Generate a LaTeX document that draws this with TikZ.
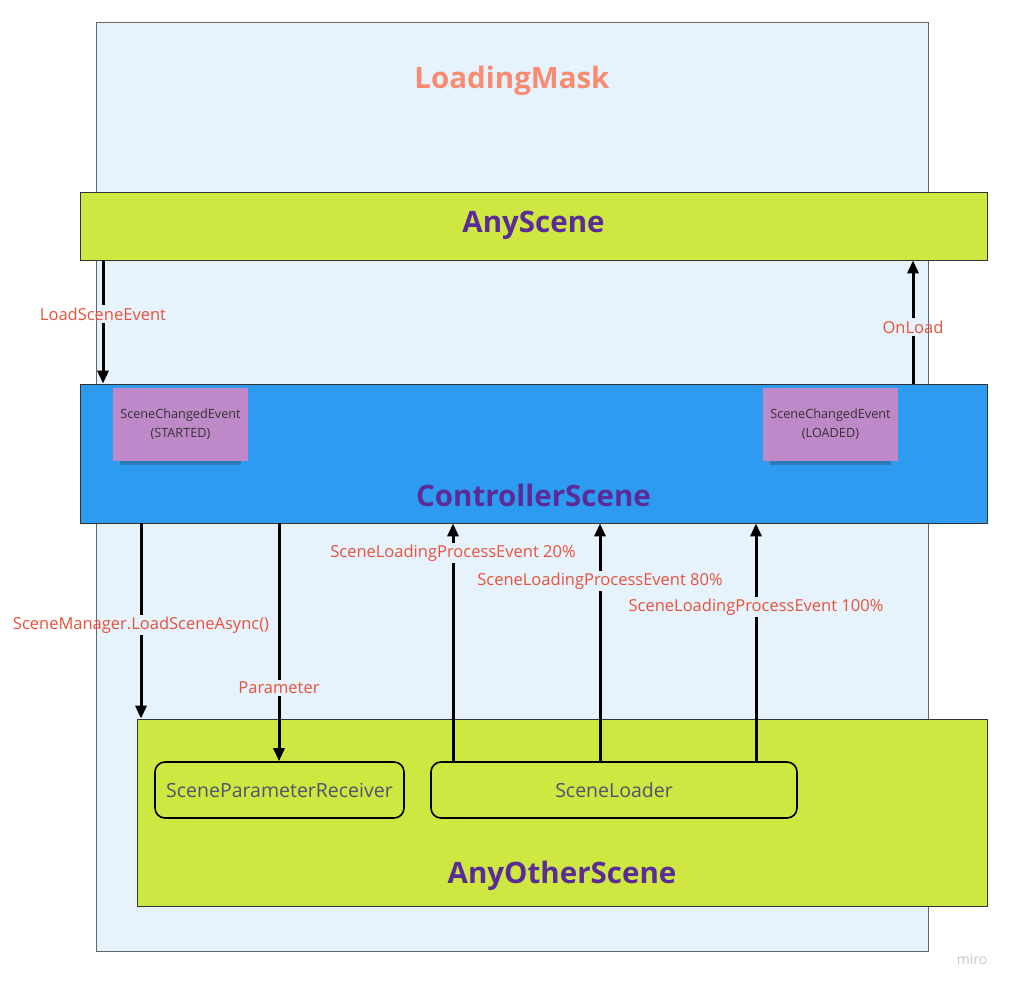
\documentclass[tikz,border=0pt]{standalone}
\usepackage{fontspec}
\setmainfont{Open Sans}
\usetikzlibrary{arrows.meta,shadows}

\definecolor{maskbg}{HTML}{E6F3FD}
\definecolor{scenelime}{HTML}{CEE741}
\definecolor{ctrlblue}{HTML}{2D9BF0}
\definecolor{stickypink}{HTML}{BF88C8}
\definecolor{titlepurple}{HTML}{5B2C98}
\definecolor{masksalmon}{HTML}{F88B72}
\definecolor{eventred}{HTML}{E8523A}
\definecolor{innertext}{HTML}{4E5570}

\begin{document}
\begin{tikzpicture}[x=1pt,y=-1pt]
\tikzstyle{every node}=[font=\fontsize{16.5}{20}\selectfont]
\tikzstyle{scenebox}=[draw=black!80, line width=0.8pt, inner sep=0pt]
\tikzstyle{title}=[font=\fontsize{29.5}{34}\selectfont\bfseries, text=titlepurple]
\tikzstyle{sticky}=[fill=stickypink, inner sep=0pt, minimum width=135pt, minimum height=73pt,
  align=center, text=black!80, font=\fontsize{12.7}{19}\selectfont,
  drop shadow={shadow xshift=0pt, shadow yshift=-8pt, shadow scale=0.9, opacity=0.3, fill=black!80}]
\tikzstyle{part}=[draw=black, line width=1.6pt, rounded corners=10pt, minimum height=56pt,
  text=innertext, font=\fontsize{19.5}{23}\selectfont]
\tikzstyle{evlabel}=[text=eventred, inner sep=2pt]
\tikzstyle{flow}=[line width=3pt]
\tikzstyle{flowarrow}=[line width=3pt, -{Triangle[length=13pt,width=11pt]}]

% white canvas
\useasboundingbox [fill=white] (0,0) rectangle (1012,987);

% the loading mask frame
\node[scenebox, fill=maskbg, draw=black!60, minimum width=832pt, minimum height=929pt] (mask) at (512,486.5) {};
\node[font=\fontsize{29.5}{34}\selectfont\bfseries, text=masksalmon] (masktitle) at (512,81) {LoadingMask};

% the scenes
\node[scenebox, fill=scenelime, minimum width=907pt, minimum height=68pt] (anyscene) at (533.5,226) {};
\node[title] (anytitle) at (533.5,225) {AnyScene};

\node[scenebox, fill=ctrlblue, minimum width=907pt, minimum height=139pt] (ctrl) at (533.5,453.5) {};
\node[title] (ctrltitle) at (533.5,495) {ControllerScene};

\node[scenebox, fill=scenelime, minimum width=850pt, minimum height=187pt] (other) at (562,812.5) {};
\node[title] (othertitle) at (562,876) {AnyOtherScene};

% sticky notes
\node[sticky] (started) at (180.5,424.5) {SceneChangedEvent\\(STARTED)};
\node[sticky] (loaded) at (830.5,424.5) {SceneChangedEvent\\(LOADED)};

% components inside AnyOtherScene
\node[part, minimum width=249pt] (receiver) at (279.5,790) {SceneParameterReceiver};
\node[part, minimum width=366pt] (loader) at (614,790) {SceneLoader};

% event labels
\node[evlabel] (loadev) at (103,314) {LoadSceneEvent};
\node[evlabel] (onload) at (913,327) {OnLoad};
\node[evlabel] (asyncev) at (141,625) {SceneManager.LoadSceneAsync()};
\node[evlabel] (paramev) at (279,688) {Parameter};
\node[evlabel] (prog20) at (453,553) {SceneLoadingProcessEvent 20\%};
\node[evlabel] (prog80) at (600,581) {SceneLoadingProcessEvent 80\%};
\node[evlabel] (prog100) at (756,607) {SceneLoadingProcessEvent 100\%};

% draw arrows
\draw[flow] (anyscene.south -| loadev) -- (loadev);
\draw[flowarrow] (loadev) -- (ctrl.north -| loadev);

\draw[flow] (ctrl.north -| onload) -- (onload);
\draw[flowarrow] (onload) -- (anyscene.south -| onload);

\draw[flow] (ctrl.south -| asyncev) -- (asyncev);
\draw[flowarrow] (asyncev) -- (other.north -| asyncev);

\draw[flow] (ctrl.south -| paramev) -- (paramev);
\draw[flowarrow] (paramev) -- (receiver.north -| paramev);

\draw[flow] (loader.north -| prog20) -- (prog20);
\draw[flowarrow] (prog20) -- (ctrl.south -| prog20);
\draw[flow] (loader.north -| prog80) -- (prog80);
\draw[flowarrow] (prog80) -- (ctrl.south -| prog80);
\draw[flow] (loader.north -| prog100) -- (prog100);
\draw[flowarrow] (prog100) -- (ctrl.south -| prog100);

% watermark
\node[text=black!22, font=\fontsize{14}{16}\selectfont] (miro) at (972,959) {miro};

\end{tikzpicture}
\end{document}
